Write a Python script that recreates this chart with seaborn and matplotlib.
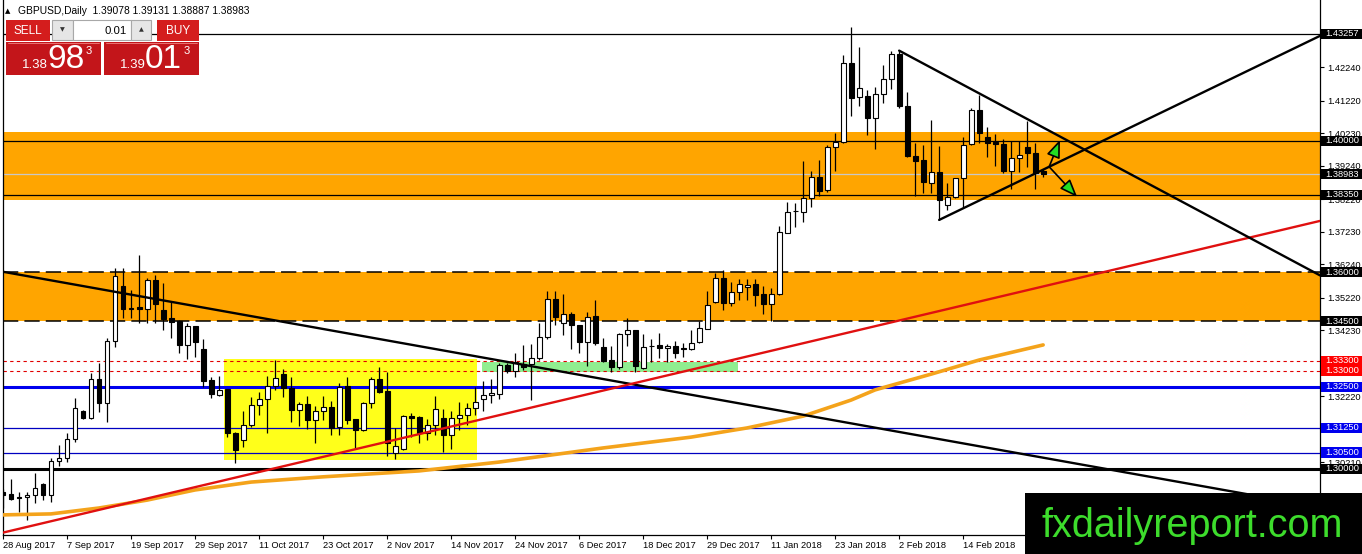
import matplotlib
matplotlib.use("Agg")
import matplotlib.pyplot as plt
import seaborn as sns
from matplotlib.patches import Rectangle
from matplotlib import font_manager

# GBPUSD daily candles 28 Aug 2017 .. 28 Feb 2018
opens = [1.2930, 1.2924, 1.2913, 1.2913, 1.2921, 1.2953, 1.2922, 1.3024, 1.3032, 1.3090,
         1.3177, 1.3154, 1.3273, 1.3200, 1.3390, 1.3558, 1.3492, 1.3495, 1.3487, 1.3576,
         1.3485, 1.3459, 1.3451, 1.3377, 1.3436, 1.3366, 1.3271, 1.3225, 1.3243, 1.3111,
         1.3089, 1.3134, 1.3195, 1.3212, 1.3253, 1.3289, 1.3246, 1.3180, 1.3197, 1.3149,
         1.3177, 1.3188, 1.3127, 1.3253, 1.3151, 1.3119, 1.3200, 1.3273, 1.3238, 1.3050,
         1.3060, 1.3161, 1.3157, 1.3109, 1.3134, 1.3154, 1.3104, 1.3154, 1.3165, 1.3185,
         1.3212, 1.3225, 1.3228, 1.3317, 1.3300, 1.3320, 1.3320, 1.3337, 1.3401, 1.3517,
         1.3444, 1.3472, 1.3439, 1.3386, 1.3466, 1.3371, 1.3332, 1.3310, 1.3410, 1.3422,
         1.3307, 1.3375, 1.3378, 1.3368, 1.3375, 1.3368, 1.3365, 1.3388, 1.3426, 1.3510,
         1.3581, 1.3507, 1.3540, 1.3554, 1.3563, 1.3533, 1.3502, 1.3533, 1.3720, 1.3785,
         1.3784, 1.3825, 1.3889, 1.3850, 1.3980, 1.3995, 1.4238, 1.4133, 1.4137, 1.4069,
         1.4143, 1.4188, 1.4265, 1.4106, 1.3954, 1.3942, 1.3873, 1.3906, 1.3805, 1.3830,
         1.3886, 1.3990, 1.4094, 1.4011, 1.3995, 1.3990, 1.3909, 1.3947, 1.3982, 1.3962,
         1.39078]
highs = [1.2940, 1.2968, 1.2929, 1.2929, 1.2987, 1.2956, 1.3032, 1.3073, 1.3109, 1.3215,
         1.3180, 1.3291, 1.3322, 1.3398, 1.3611, 1.3611, 1.3545, 1.3652, 1.3581, 1.3591,
         1.3566, 1.3510, 1.3454, 1.3446, 1.3437, 1.3395, 1.3281, 1.3283, 1.3244, 1.3114,
         1.3177, 1.3218, 1.3234, 1.3283, 1.3332, 1.3304, 1.3281, 1.3205, 1.3222, 1.3192,
         1.3222, 1.3207, 1.3263, 1.3281, 1.3151, 1.3205, 1.3279, 1.3312, 1.3294, 1.3124,
         1.3164, 1.3170, 1.3160, 1.3151, 1.3222, 1.3182, 1.3178, 1.3205, 1.3202, 1.3251,
         1.3269, 1.3273, 1.3324, 1.3324, 1.3352, 1.3378, 1.3381, 1.3444, 1.3543, 1.3543,
         1.3533, 1.3477, 1.3439, 1.3479, 1.3515, 1.3398, 1.3375, 1.3415, 1.3459, 1.3424,
         1.3410, 1.3395, 1.3413, 1.3381, 1.3391, 1.3385, 1.3424, 1.3452, 1.3543, 1.3596,
         1.3606, 1.3571, 1.3578, 1.3578, 1.3578, 1.3558, 1.3551, 1.3741, 1.3815, 1.3812,
         1.3940, 1.3909, 1.3942, 1.3987, 1.4023, 1.4262, 1.4346, 1.4285, 1.4155, 1.4165,
         1.4231, 1.4275, 1.4275, 1.4150, 1.3992, 1.3987, 1.4064, 1.3984, 1.3873, 1.3886,
         1.4013, 1.4099, 1.4140, 1.4043, 1.4021, 1.4005, 1.4001, 1.4001, 1.4062, 1.3992,
         1.39131]
lows = [1.2880, 1.2905, 1.2870, 1.2844, 1.2895, 1.2905, 1.2898, 1.3009, 1.3022, 1.3083,
        1.3152, 1.3152, 1.3175, 1.3144, 1.3373, 1.3459, 1.3459, 1.3444, 1.3444, 1.3444,
        1.3424, 1.3400, 1.3352, 1.3334, 1.3342, 1.3251, 1.3215, 1.3222, 1.3098, 1.3019,
        1.3066, 1.3127, 1.3165, 1.3111, 1.3241, 1.3218, 1.3144, 1.3131, 1.3121, 1.3078,
        1.3149, 1.3104, 1.3104, 1.3137, 1.3060, 1.3117, 1.3185, 1.3233, 1.3038, 1.3029,
        1.3057, 1.3098, 1.3078, 1.3088, 1.3102, 1.3053, 1.3060, 1.3119, 1.3134, 1.3165,
        1.3178, 1.3202, 1.3212, 1.3291, 1.3281, 1.3302, 1.3210, 1.3332, 1.3395, 1.3439,
        1.3408, 1.3365, 1.3354, 1.3314, 1.3378, 1.3327, 1.3297, 1.3304, 1.3375, 1.3297,
        1.3304, 1.3327, 1.3337, 1.3327, 1.3337, 1.3340, 1.3363, 1.3383, 1.3426, 1.3505,
        1.3485, 1.3497, 1.3515, 1.3515, 1.3497, 1.3472, 1.3452, 1.3530, 1.3720, 1.3736,
        1.3754, 1.3799, 1.3832, 1.3845, 1.3909, 1.3992, 1.4076, 1.4106, 1.4018, 1.3974,
        1.4116, 1.4157, 1.4099, 1.3950, 1.3832, 1.3840, 1.3840, 1.3759, 1.3789, 1.3825,
        1.3794, 1.3987, 1.3992, 1.3952, 1.3923, 1.3901, 1.3852, 1.3906, 1.3921, 1.3852,
        1.38887]
closes = [1.2922, 1.2909, 1.2912, 1.2921, 1.2941, 1.2922, 1.3024, 1.3032, 1.3090, 1.3185,
          1.3154, 1.3273, 1.3200, 1.3390, 1.3588, 1.3487, 1.3487, 1.3487, 1.3576, 1.3502,
          1.3458, 1.3449, 1.3377, 1.3436, 1.3388, 1.3269, 1.3227, 1.3241, 1.3109, 1.3058,
          1.3134, 1.3195, 1.3212, 1.3253, 1.3276, 1.3246, 1.3180, 1.3197, 1.3149, 1.3177,
          1.3188, 1.3124, 1.3251, 1.3149, 1.3119, 1.3200, 1.3273, 1.3236, 1.3078, 1.3070,
          1.3161, 1.3156, 1.3109, 1.3134, 1.3182, 1.3104, 1.3154, 1.3165, 1.3185, 1.3205,
          1.3225, 1.3233, 1.3317, 1.3300, 1.3327, 1.3310, 1.3337, 1.3401, 1.3517, 1.3462,
          1.3472, 1.3439, 1.3386, 1.3464, 1.3383, 1.3330, 1.3310, 1.3410, 1.3422, 1.3314,
          1.3373, 1.3375, 1.3368, 1.3375, 1.3354, 1.3365, 1.3385, 1.3429, 1.3500, 1.3581,
          1.3507, 1.3540, 1.3563, 1.3561, 1.3530, 1.3502, 1.3533, 1.3723, 1.3784, 1.3787,
          1.3825, 1.3889, 1.3848, 1.3980, 1.3995, 1.4238, 1.4132, 1.4160, 1.4069, 1.4143,
          1.4188, 1.4265, 1.4106, 1.3954, 1.3940, 1.3876, 1.3906, 1.3820, 1.3830, 1.3886,
          1.3987, 1.4094, 1.4025, 1.3992, 1.3990, 1.3909, 1.3947, 1.3957, 1.3962, 1.3901,
          1.38983]

# moving average (orange curve), sampled at some bars
ma_bar = [0, 6, 12, 18, 24, 31, 40, 52, 62, 75, 86, 93, 100, 106, 109, 116, 122, 130]
ma_val = [1.2860, 1.2863, 1.2881, 1.2905, 1.2936, 1.2960, 1.2976, 1.2994, 1.3021, 1.3064,
          1.3097, 1.3125, 1.3161, 1.3210, 1.3241, 1.3289, 1.3332, 1.3378]

date_bars = [0, 8, 16, 24, 32, 40, 48, 56, 64, 72, 80, 88, 96, 104, 112, 120]
date_labels = ["28 Aug 2017", "7 Sep 2017", "19 Sep 2017", "29 Sep 2017", "11 Oct 2017",
               "23 Oct 2017", "2 Nov 2017", "14 Nov 2017", "24 Nov 2017", "6 Dec 2017",
               "18 Dec 2017", "29 Dec 2017", "11 Jan 2018", "23 Jan 2018", "2 Feb 2018",
               "14 Feb 2018"]
ytick_vals = [1.42240, 1.41220, 1.40230, 1.39240, 1.38220, 1.37230, 1.36240, 1.35220,
              1.34230, 1.32220, 1.30210]

# chart objects
zone_upper = [1.3820, 1.4027]
zone_lower = [1.3450, 1.3600]
yellow_box = [27.6, 59.3, 1.3027, 1.3335]   # bar from, bar to, price low, price high
green_box = [59.9, 91.9, 1.3294, 1.3327]
top_level = 1.43257
black_levels = [1.40000, 1.38350]
dashed_levels = [1.36000, 1.34500]
red_levels = [1.33300, 1.33000]
blue_thick = 1.32500
blue_thin = [1.31250, 1.30500]
big_level = 1.30000
bid = 1.38983
down_trend = [(0, 1.3601), (156, 1.2921)]
red_trend = [(0, 1.2806), (164.6, 1.3756)]
tri_upper = [(112, 1.4275), (164.6, 1.3590)]
tri_lower = [(117, 1.3759), (164.6, 1.4320)]
arrow_base = (130.75, 1.3921)
arrow_up = (132.1, 1.4003)
arrow_down = (134.25, 1.3829)

box_prices = [1.43257, 1.40000, 1.38983, 1.38350, 1.36000, 1.34500,
              1.33300, 1.33000, 1.32500, 1.31250, 1.30500, 1.30000]
box_colors = ["black", "black", "black", "black", "black", "black",
              "#ff0000", "#ff0000", "#0000ee", "#0000ee", "#0000ee", "black"]

sns.set_theme(style="white")
installed = {f.name for f in font_manager.fontManager.ttflist}
base_font = "Liberation Sans" if "Liberation Sans" in installed else "DejaVu Sans"
plt.rcParams["font.family"] = [base_font, "DejaVu Sans"]

W, H = 1362, 554
fig = plt.figure(figsize=(W / 100, H / 100), dpi=100)
fig.patch.set_facecolor("white")
ax = fig.add_axes([3 / W, 19 / H, 1317 / W, 535 / H])
ax.set_facecolor("white")
ax.set_xlim(0, 164.6)
ax.set_ylim(1.27987, 1.44293)

# zones
ax.axhspan(zone_upper[0], zone_upper[1], color="#ffa500", lw=0, zorder=1)
ax.axhspan(zone_lower[0], zone_lower[1], color="#ffa500", lw=0, zorder=1)
ax.add_patch(Rectangle((yellow_box[0], yellow_box[2]), yellow_box[1] - yellow_box[0],
                       yellow_box[3] - yellow_box[2], fc="#ffff1a", lw=0, zorder=1.2))
ax.add_patch(Rectangle((green_box[0], green_box[2]), green_box[1] - green_box[0],
                       green_box[3] - green_box[2], fc="#90ee90", lw=0, zorder=1.2))

# horizontal levels
ax.axhline(top_level, color="black", lw=0.9, zorder=2)
for lv in black_levels:
    ax.axhline(lv, color="black", lw=0.9, zorder=2)
ax.axhline(bid, color="#c8c8c8", lw=0.9, zorder=2)
for lv in dashed_levels:
    ax.axhline(lv, color="black", lw=1.1, ls=(0, (10, 4)), zorder=2)
for lv in red_levels:
    ax.axhline(lv, color="#e00000", lw=0.8, ls=(0, (3, 3)), zorder=2)
ax.axhline(blue_thick, color="#0000ee", lw=2.2, zorder=2)
for lv in blue_thin:
    ax.axhline(lv, color="#0000c0", lw=0.9, zorder=2)
ax.axhline(big_level, color="black", lw=2.2, zorder=2)

# candles
idx = list(range(len(opens)))
ax.vlines(idx, lows, highs, color="black", lw=0.9, zorder=3)
bottoms = [min(o, c) for o, c in zip(opens, closes)]
heights = [max(abs(c - o), 0.00008) for o, c in zip(opens, closes)]
fcs = ["white" if c > o else "black" for o, c in zip(opens, closes)]
ax.bar(idx, heights, bottom=bottoms, width=0.62, color=fcs, edgecolor="black",
       linewidth=0.8, zorder=4)

# moving average and trend lines
sns.lineplot(x=ma_bar, y=ma_val, ax=ax, color="#f4a31b", lw=2.6, zorder=5)
ax.axline(down_trend[0], down_trend[1], color="black", lw=1.7, zorder=6)
ax.axline(red_trend[0], red_trend[1], color="#e01010", lw=1.7, zorder=6)
ax.plot([p[0] for p in tri_upper], [p[1] for p in tri_upper], color="black", lw=1.7, zorder=6)
ax.plot([p[0] for p in tri_lower], [p[1] for p in tri_lower], color="black", lw=1.7, zorder=6)
for tip in (arrow_up, arrow_down):
    ax.annotate("", xy=tip, xytext=arrow_base, zorder=7,
                arrowprops=dict(arrowstyle="-|>,head_length=0.9,head_width=0.35",
                                fc="#22dd22", ec="black", lw=1.2, shrinkA=0, shrinkB=0))

# axes styling
for s in ["left", "right", "bottom"]:
    ax.spines[s].set_visible(True)
    ax.spines[s].set_color("black")
    ax.spines[s].set_linewidth(0.9)
ax.spines["top"].set_visible(False)
ax.set_xticks(date_bars)
ax.set_xticklabels(date_labels, ha="left")
ax.tick_params(axis="x", bottom=True, length=3, width=0.8, pad=1.5, labelsize=6.7,
               colors="black", direction="out")
ax.yaxis.tick_right()
ax.set_yticks(ytick_vals)
ax.set_yticklabels([f"{v:.5f}" for v in ytick_vals])
ax.tick_params(axis="y", right=True, left=False, labelright=True, labelleft=False,
               length=3, width=0.8, pad=2, labelsize=6.7, colors="black", direction="out")
ax.set_xlabel("")
ax.set_ylabel("")

# price boxes on the right scale
for p, col in zip(box_prices, box_colors):
    ax.add_patch(Rectangle((1.0005, p - 0.00155), 42 / 1317, 0.0031,
                           transform=ax.get_yaxis_transform(), fc=col, ec="none",
                           clip_on=False, zorder=8))
    ax.text(1.0 + 5 / 1317, p, f"{p:.5f}", transform=ax.get_yaxis_transform(),
            color="white", fontsize=6.7, va="center", ha="left", clip_on=False, zorder=9)

# overlay: trade panel and watermark (pixel coordinates)
ov = fig.add_axes([0, 0, 1, 1], zorder=10)
ov.set_xlim(0, W)
ov.set_ylim(H, 0)
ov.axis("off")
ov.patch.set_alpha(0)

ov.text(8, 11, "▲", fontsize=5, va="center", ha="center", color="black",
        family=["DejaVu Sans"])
ov.text(18, 11, "GBPUSD,Daily  1.39078 1.39131 1.38887 1.38983", fontsize=7.4,
        va="center", ha="left", color="black")

red = "#d41d1d"
dark_red = "#c3151a"
ov.add_patch(Rectangle((6, 20), 44, 21, fc=red, ec="none"))
ov.text(28, 31, "SELL", color="white", fontsize=8.5, ha="center", va="center")
ov.add_patch(Rectangle((52, 20), 21, 20, fc="#e6e6e6", ec="#a8a8a8", lw=0.8))
ov.text(62.5, 30, "▼", color="#333333", fontsize=4.5, ha="center", va="center",
        family=["DejaVu Sans"])
ov.add_patch(Rectangle((73, 20), 58, 20, fc="white", ec="#a8a8a8", lw=0.8))
ov.text(127, 30.5, "0.01", color="black", fontsize=8.2, ha="right", va="center")
ov.add_patch(Rectangle((131, 20), 20, 20, fc="#e6e6e6", ec="#a8a8a8", lw=0.8))
ov.text(141, 30, "▲", color="#333333", fontsize=4.5, ha="center", va="center",
        family=["DejaVu Sans"])
ov.add_patch(Rectangle((157, 20), 42, 21, fc=red, ec="none"))
ov.text(178, 31, "BUY", color="white", fontsize=8.5, ha="center", va="center")

for x0, small, big in [(6, "1.38", "98"), (104, "1.39", "01")]:
    ov.add_patch(Rectangle((x0, 42), 95, 33, fc=dark_red, ec="none"))
    ov.plot([x0 + 2, x0 + 93], [42.5, 42.5], color="#f08080", lw=0.6)
    ov.text(x0 + 16, 68, small, color="white", fontsize=9.5, ha="left", va="baseline")
    ov.text(x0 + 41, 68, big, color="white", fontsize=24, ha="left", va="baseline")
    ov.text(x0 + 80, 51, "3", color="white", fontsize=8, ha="left", va="center")

ov.add_patch(Rectangle((1025, 493), W - 1025, H - 493, fc="black", ec="none"))
ov.text(1192, 537, "fxdailyreport.com", color="#3ddc2c", fontsize=28.5,
        ha="center", va="baseline")

fig.savefig("out.png", dpi=100, facecolor="white")
